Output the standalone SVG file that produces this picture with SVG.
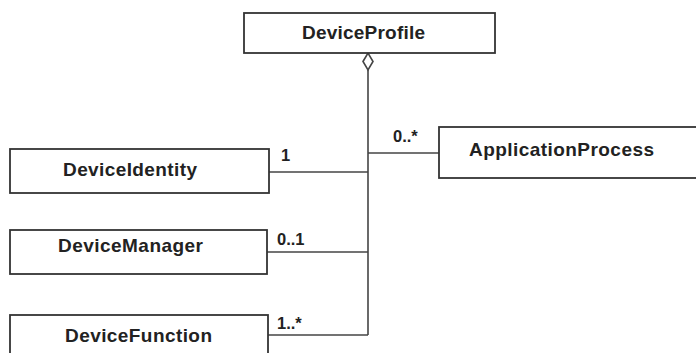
<svg xmlns="http://www.w3.org/2000/svg" width="696" height="353" viewBox="0 0 696 353">
<style>
.box{fill:#fff;stroke:#333;stroke-width:1.8}
.lbl{font-family:"Liberation Sans",Arial,sans-serif;font-weight:bold;font-size:19px;fill:#222}
.mult{font-family:"Liberation Sans",Arial,sans-serif;font-weight:bold;font-size:16.5px;fill:#222}
.conn{fill:none;stroke:#444;stroke-width:1.6}
</style>
<rect width="696" height="353" fill="#fff"/>
<g id="connectors">
<path class="conn" d="M368,70 V335"/>
<path class="conn" d="M363,61.5 L368,53 L373,61.5 L368,70 Z" fill="#fff"/>
<path class="conn" d="M269,172 H368"/>
<path class="conn" d="M368,153 H439"/>
<path class="conn" d="M267,252 H368"/>
<path class="conn" d="M268,335 H368"/>
<text class="mult" x="281" y="161">1</text>
<text class="mult" x="393" y="142">0..*</text>
<text class="mult" x="277" y="245">0..1</text>
<text class="mult" x="277" y="329">1..*</text>
</g>
<g id="DeviceProfile">
<rect class="box" x="244" y="13" width="251" height="40"/>
<text class="lbl" x="302" y="39" textLength="123">DeviceProfile</text>
</g>
<g id="ApplicationProcess">
<rect class="box" x="439" y="127" width="262" height="51"/>
<text class="lbl" x="469" y="156" textLength="185">ApplicationProcess</text>
</g>
<g id="DeviceIdentity">
<rect class="box" x="10" y="149" width="259" height="44"/>
<text class="lbl" x="63" y="176" textLength="134">DeviceIdentity</text>
</g>
<g id="DeviceManager">
<rect class="box" x="10" y="230" width="257" height="44"/>
<text class="lbl" x="58" y="252" textLength="145">DeviceManager</text>
</g>
<g id="DeviceFunction">
<rect class="box" x="10" y="315" width="258" height="50"/>
<text class="lbl" x="65" y="342" textLength="147">DeviceFunction</text>
</g>
</svg>
